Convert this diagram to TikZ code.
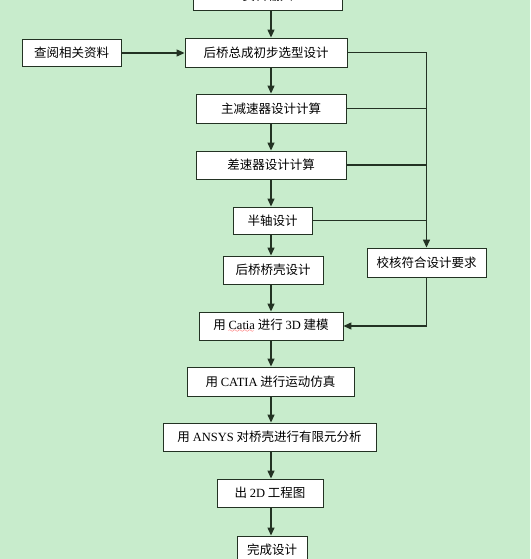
\documentclass[tikz,border=0pt]{standalone}
\usepackage{fontspec}
\usepackage{xcolor}
\usetikzlibrary{arrows.meta}
\setmainfont{Liberation Serif}
\newfontfamily\cjk{Noto Sans CJK SC}
\definecolor{flowbg}{RGB}{200,236,204}
\definecolor{flowline}{RGB}{35,50,35}
\font\wavefont=lasy6
\newcommand{\spellwave}[1]{\setbox0\hbox{#1}\rlap{\copy0}%
  \lower3pt\hbox to\wd0{\color{red}\leaders\hbox{\wavefont\char58}\hfill}}

\begin{document}
\begin{tikzpicture}[x=1pt,y=-1pt,
  stepbox/.style={draw=flowline,fill=white,line width=0.9pt,inner sep=0pt,
    minimum height=28pt,font=\fontsize{12.5}{14}\selectfont\cjk},
  link/.style={draw=flowline,line width=1.3pt},
  arr/.style={link,-{Triangle[length=8pt,width=7pt]}}]
  \fill[flowbg] (0,0) rectangle (530,559);
  \useasboundingbox (0,0) rectangle (530,559);
  \clip (0,0) rectangle (530,559);
  \coordinate (spine) at (271,0);
  % main column
  \node[stepbox,minimum width=149pt] (input) at (267.5,-4) {资料输入};
  \node[stepbox,minimum width=162pt,minimum height=29pt] (select) at (266,52.5) {后桥总成初步选型设计};
  \node[stepbox,minimum width=99pt,minimum height=27pt] (ref) at (71.5,53) {查阅相关资料};
  \node[stepbox,minimum width=150pt,minimum height=29pt] (reducer) at (271,108.5) {主减速器设计计算};
  \node[stepbox,minimum width=150pt] (diff) at (271,165) {差速器设计计算};
  \node[stepbox,minimum width=79pt,minimum height=27pt] (half) at (272.5,220.5) {半轴设计};
  \node[stepbox,minimum width=100pt] (housing) at (273,270) {后桥桥壳设计};
  \node[stepbox,minimum width=119pt,minimum height=29pt] (check) at (426.5,262.5) {校核符合设计要求};
  \node[stepbox,minimum width=144pt] (model) at (271,326) {用 {\rmfamily\spellwave{Catia}} 进行 {\rmfamily 3D} 建模};
  \node[stepbox,minimum width=167pt,minimum height=29pt] (motion) at (270.5,381.5) {用 {\rmfamily CATIA} 进行运动仿真};
  \node[stepbox,minimum width=213pt] (fea) at (269.5,437) {用 {\rmfamily ANSYS} 对桥壳进行有限元分析};
  \node[stepbox,minimum width=106pt] (drawing) at (270,493) {出 {\rmfamily 2D} 工程图};
  \node[stepbox,minimum width=70pt] (finish) at (272,550) {完成设计};
  \foreach \a/\b in {input/select,select/reducer,reducer/diff,diff/half,half/housing,
    housing/model,model/motion,motion/fea,fea/drawing,drawing/finish}
    \draw[arr] (\a.south -| spine) -- (\b.north -| spine);
  \draw[arr] (ref.east) -- (ref.east -| select.west);
  % check branch
  \foreach \s in {reducer,diff,half}
    \draw[link] (\s.east) -- (\s.east -| check);
  \draw[arr] (select.east) -| (check.north);
  \draw[arr] (check.south) |- (model.east);
\end{tikzpicture}
\end{document}
